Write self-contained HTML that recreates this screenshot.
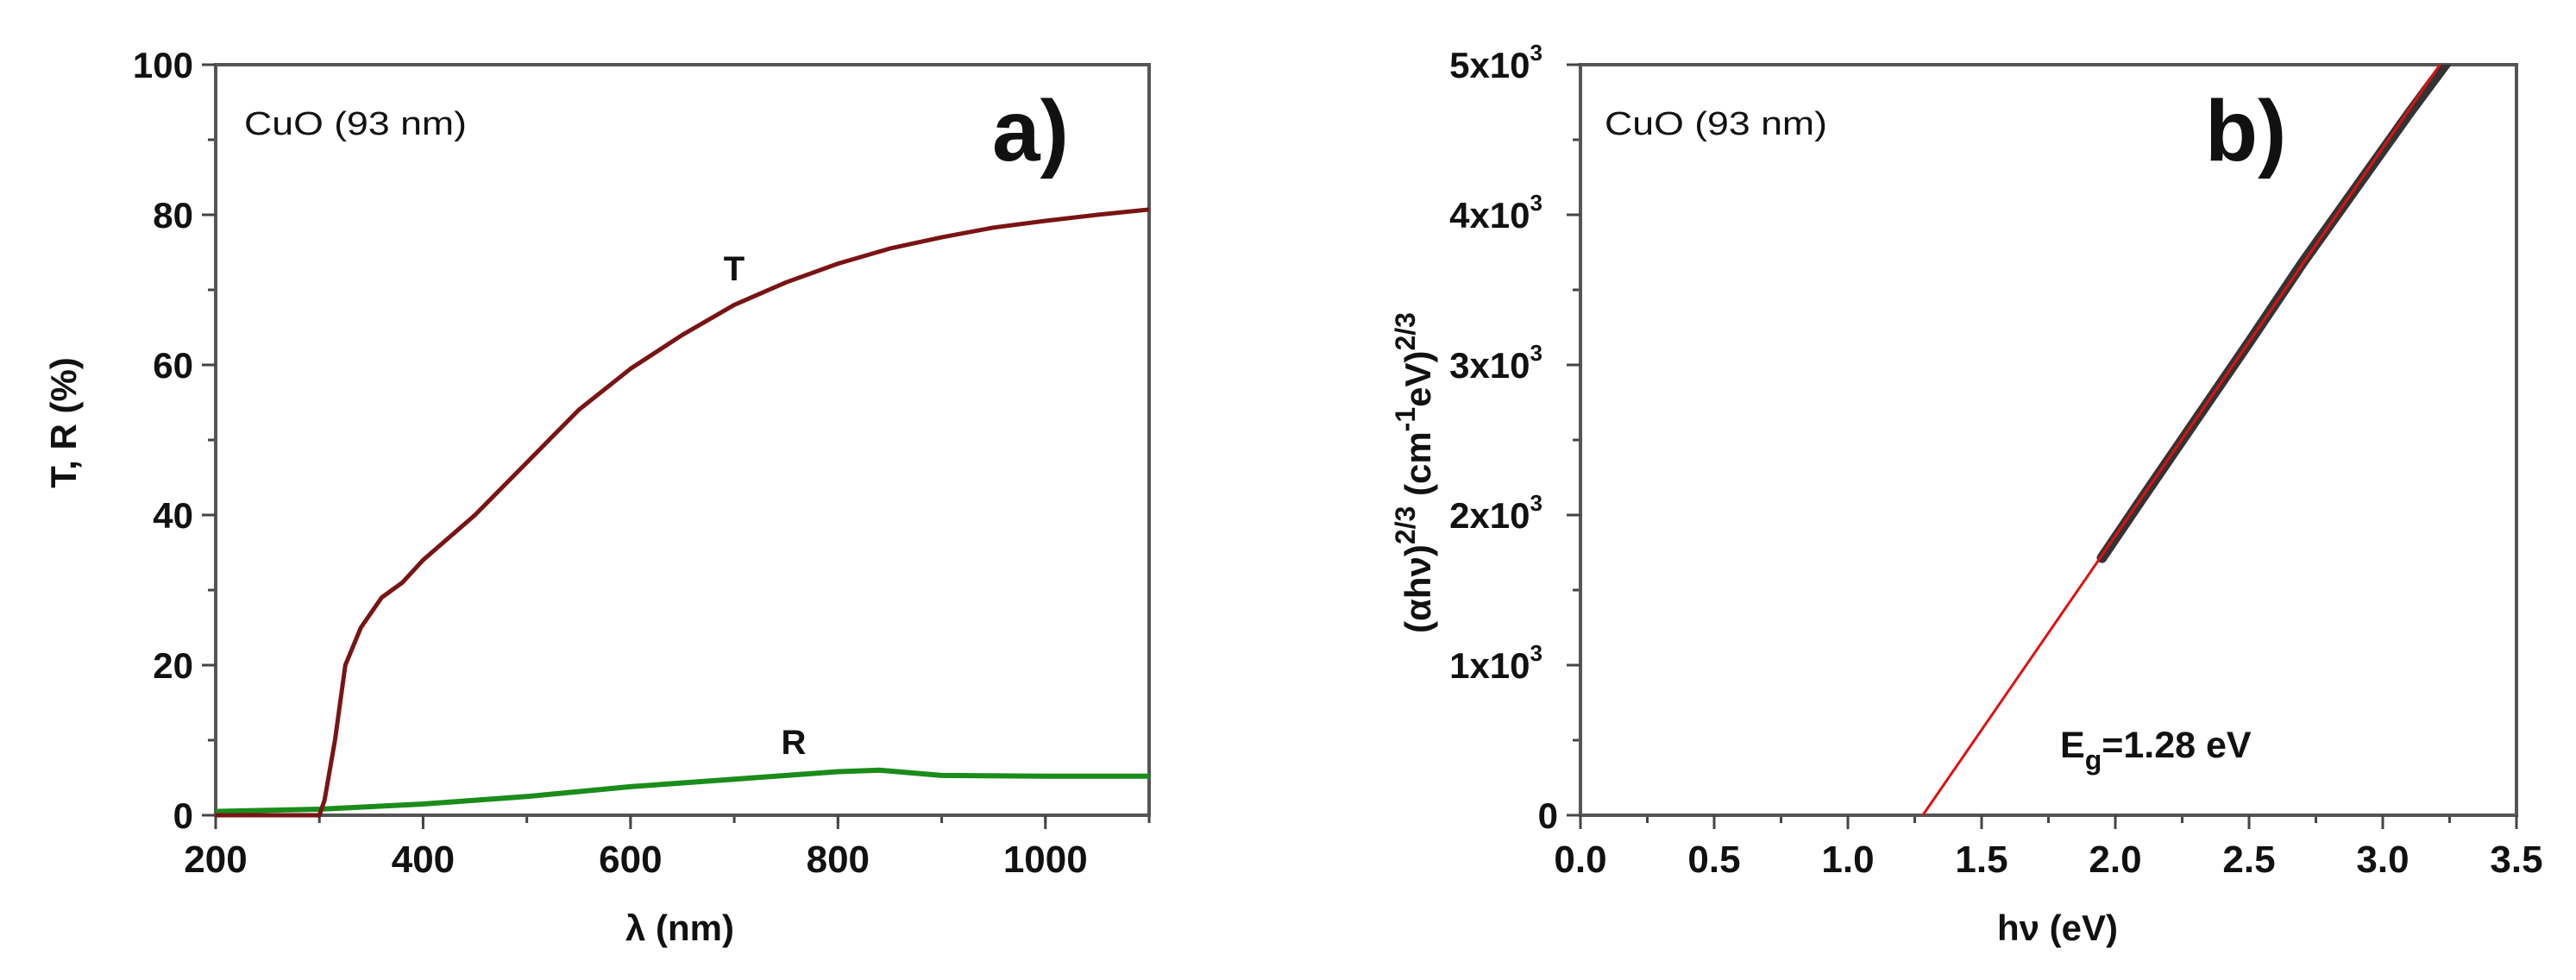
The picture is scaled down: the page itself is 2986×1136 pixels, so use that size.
<!DOCTYPE html>
<html><head><meta charset="utf-8"><style>
html,body{margin:0;padding:0;background:#fff;}
svg text{font-family:"Liberation Sans",sans-serif;fill:#111;}
</style></head><body>
<svg id="fig" width="2986" height="1131" viewBox="0 0 2986 1131" xmlns="http://www.w3.org/2000/svg">
<g id="pa"></g>
<g id="pb"></g>
<text x="283" y="156" font-size="38" textLength="258" lengthAdjust="spacingAndGlyphs">CuO (93 nm)</text>
<text x="1150" y="186" font-size="100" font-weight="bold">a)</text>
<text x="851" y="325" font-size="40" font-weight="bold" text-anchor="middle">T</text>
<text x="920" y="874" font-size="40" font-weight="bold" text-anchor="middle">R</text>
<text x="788" y="1090" font-size="42" font-weight="bold" text-anchor="middle">λ (nm)</text>
<text transform="translate(88,490) rotate(-90)" font-size="42" font-weight="bold" text-anchor="middle">T, R (%)</text>
<text x="1860" y="156" font-size="38" textLength="258" lengthAdjust="spacingAndGlyphs">CuO (93 nm)</text>
<text x="2556" y="186" font-size="100" font-weight="bold">b)</text>
<text x="2388" y="878" font-size="43" font-weight="bold">E<tspan font-size="32" dy="14">g</tspan><tspan dy="-14">=1.28 eV</tspan></text>
<text x="2385" y="1090" font-size="42" font-weight="bold" text-anchor="middle">hν (eV)</text>
<text transform="translate(1658,548) rotate(-90)" font-size="42" font-weight="bold" text-anchor="middle">(αhν)<tspan font-size="32" dy="-18">2/3</tspan><tspan dy="18"> (cm</tspan><tspan font-size="32" dy="-18">-1</tspan><tspan dy="18">eV)</tspan><tspan font-size="32" dy="-18">2/3</tspan></text>
</svg>
<script>
const tWl=[200,300,305,315,325,340,360,380,400,450,500,550,600,650,700,750,800,850,900,950,1000,1050,1100];
const tVal=[0,0,2,10,20,25,29,31,34,40,47,54,59.5,64,68,71,73.5,75.5,77,78.3,79.2,80,80.7];
const rWl=[200,300,400,500,600,700,800,840,900,1000,1100];
const rVal=[0.5,0.8,1.5,2.5,3.8,4.8,5.8,6,5.3,5.2,5.2];
const aXTicks=[200,400,600,800,1000];
const aYTicks=[0,20,40,60,80,100];
const bE=[1.95,2.1,2.3,2.5,2.7,2.9,3.1,3.25];
const bY=[1715,2110,2630,3150,3680,4180,4680,5040];
const fitEg=[1.28];
const fitSlope=[2585];
const bXTicks=[0.0,0.5,1.0,1.5,2.0,2.5,3.0,3.5];
const bYTicks=[0,1,2,3,4,5];
const NS="http://www.w3.org/2000/svg";
function mk(p,t,at){const e=document.createElementNS(NS,t);for(const k in at)e.setAttribute(k,at[k]);p.appendChild(e);return e;}
const T=75,B=945;
function axes(g,L,R,xmin,xmax,ymin,ymax,xt,xminor,yt,yminor,xl,yl,nm){
  const sx=v=>L+(v-xmin)/(xmax-xmin)*(R-L), sy=v=>B-(v-ymin)/(ymax-ymin)*(B-T);
  for(let v=xmin;v<=xmax+1e-9;v+=xminor){const x=sx(v);const l=mk(g,'line',{x1:x,x2:x,y1:B,y2:B+9,stroke:'#444','stroke-width':3});
    }
  for(let v=ymin;v<=ymax+1e-9;v+=yminor){const y=sy(v);const l=mk(g,'line',{x1:L-9,x2:L,y1:y,y2:y,stroke:'#444','stroke-width':3});
    }
  const fr=mk(g,'rect',{x:L,y:T,width:R-L,height:B-T,fill:'none',stroke:'#555','stroke-width':4});
  
  xt.forEach((v,i)=>{const x=sx(v);const l=mk(g,'line',{x1:x,x2:x,y1:B,y2:B+16,stroke:'#444','stroke-width':3});
    
    const t=mk(g,'text',{x:x,y:B+66,'font-size':44,'font-weight':'bold','text-anchor':'middle'});t.textContent=xl[i];
    });
  yt.forEach((v,i)=>{const y=sy(v);const l=mk(g,'line',{x1:L-16,x2:L,y1:y,y2:y,stroke:'#444','stroke-width':3});
    
    const t=mk(g,'text',{x:L-26,y:y+15,'font-size':42,'font-weight':'bold','text-anchor':'end'});
    if(typeof yl[i]==='string'){t.textContent=yl[i];}else{t.textContent=yl[i][0];const s=mk(t,'tspan',{'font-size':26,dy:-20});s.textContent='3';t.setAttribute('x',L-44);}
    });
  return {sx,sy};
}
const ga=document.getElementById('pa');
const A=axes(ga,250,1332,200,1100,0,100,aXTicks,100,aYTicks,10,aXTicks.map(String),aYTicks.map(String),'a');
function path(xs,ys,s){return xs.map((v,i)=>(i?'L':'M')+s.sx(v).toFixed(1)+','+s.sy(ys[i]).toFixed(1)).join('');}
const pr=mk(ga,'path',{d:path(rWl,rVal,A),fill:'none',stroke:'#1a8c1a','stroke-width':6,'stroke-linejoin':'round'});

const pt=mk(ga,'path',{d:path(tWl,tVal,A),fill:'none',stroke:'#7a1414','stroke-width':5,'stroke-linejoin':'round'});

const gb=document.getElementById('pb');
const Bs=axes(gb,1832,2917,0,3.5,0,5000,bXTicks,0.25,bYTicks.map(v=>v*1000),500,bXTicks.map(v=>v.toFixed(1)),bYTicks.map(v=>v===0?'0':[v+'x10']),'b');
const cp=mk(gb,'clipPath',{id:'cb'});mk(cp,'rect',{x:1832,y:T,width:1085,height:B-T});
const pd=mk(gb,'path',{d:path(bE,bY,Bs),fill:'none',stroke:'#333','stroke-width':12,'stroke-linecap':'round','clip-path':'url(#cb)'});

const xEnd=fitEg[0]+5100/fitSlope[0];
const pf=mk(gb,'line',{x1:Bs.sx(fitEg[0]),y1:Bs.sy(0),x2:Bs.sx(xEnd),y2:Bs.sy(5100),stroke:'#e01010','stroke-width':3,'clip-path':'url(#cb)'});

</script>
</body></html>
